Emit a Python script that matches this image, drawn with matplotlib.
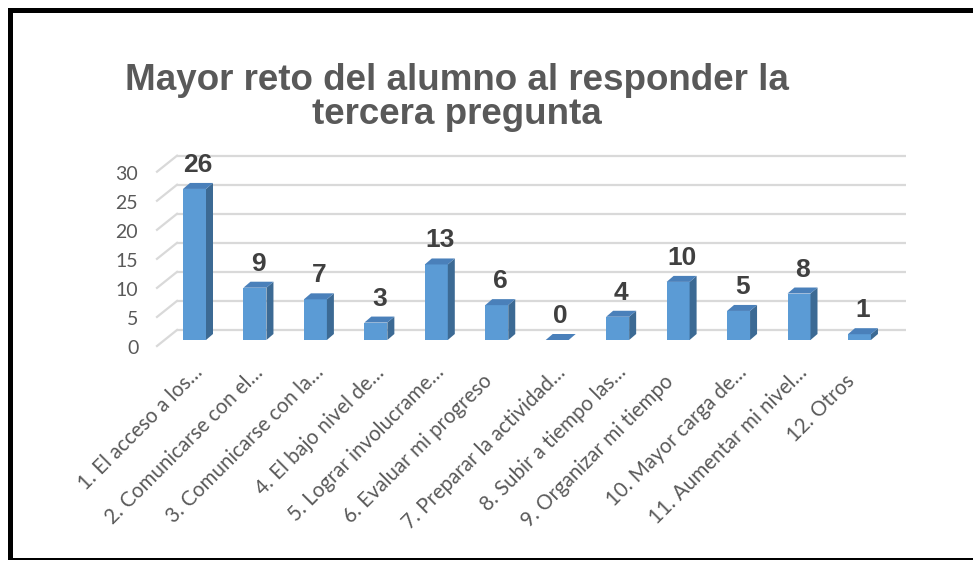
import matplotlib
matplotlib.use('Agg')
import matplotlib.pyplot as plt
from matplotlib.patches import Polygon, Rectangle
from matplotlib.transforms import ScaledTranslation

# ---------------- data ----------------
categories = [
    "1. El acceso a los…",
    "2. Comunicarse con el…",
    "3. Comunicarse con la…",
    "4. El bajo nivel de…",
    "5. Lograr involucrame…",
    "6. Evaluar mi progreso",
    "7. Preparar la actividad…",
    "8. Subir a tiempo las…",
    "9. Organizar mi tiempo",
    "10. Mayor carga de…",
    "11. Aumentar mi nivel…",
    "12. Otros",
]
values = [26, 9, 7, 3, 13, 6, 0, 4, 10, 5, 8, 1]
yticks = [0, 5, 10, 15, 20, 25, 30]
title = "Mayor reto del alumno al responder la\ntercera pregunta"

# ---------------- layout (pixels) ----------------
W, H = 973, 561
fig = plt.figure(figsize=(W / 100, H / 100), dpi=100)
fig.patch.set_facecolor('white')

px_left, px_right = 157, 906
unit_x = 60.45
x0_px = 194.5
unit_y = 5.81
y0_px = 340
ax_bottom_px, ax_top_px = 347, 150

xlim = ((px_left - x0_px) / unit_x, (px_right - x0_px) / unit_x)
ylim = (-(ax_bottom_px - y0_px) / unit_y, (y0_px - ax_top_px) / unit_y)

ax = fig.add_axes([px_left / W, (H - ax_bottom_px) / H,
                   (px_right - px_left) / W, (ax_bottom_px - ax_top_px) / H])
ax.set_xlim(xlim)
ax.set_ylim(ylim)
for s in ax.spines.values():
    s.set_visible(False)
ax.set_facecolor('none')

# back wall / floor geometry
back_dx = 20 / unit_x
back_dy = 10 / unit_y
front_dy = -6 / unit_y
xb = xlim[0] + back_dx
grid_col = '#D9D9D9'
for v in yticks:
    ax.plot([xb, xlim[1]], [v + back_dy] * 2, color=grid_col, lw=1.6,
            solid_capstyle='butt', zorder=1, clip_on=False)
    ax.plot([xlim[0], xb], [v + front_dy, v + back_dy], color=grid_col,
            lw=1.6, zorder=1, clip_on=False)

# bars (pseudo 3D)
bw = 23 / unit_x
bdx = 7 / unit_x
bdy = 6 / unit_y
front_col = '#5B9BD5'
side_col = '#3C6A94'
top_col = '#4A80BA'
xs = list(range(len(values)))
ax.bar(xs, values, width=bw, color=front_col, zorder=3, linewidth=0)
for x, v in zip(xs, values):
    r = x + bw / 2
    l = x - bw / 2
    if v > 0:
        ax.add_patch(Polygon([(r, 0), (r + bdx, bdy), (r + bdx, v + bdy), (r, v)],
                             closed=True, facecolor=side_col, edgecolor='none', zorder=3))
    ax.add_patch(Polygon([(l, v), (r, v), (r + bdx, v + bdy), (l + bdx, v + bdy)],
                         closed=True, facecolor=top_col, edgecolor='none', zorder=3))
    ax.annotate(str(v), (x + bdx / 2, v + bdy), xytext=(0, 11),
                textcoords='offset pixels', ha='center', va='baseline',
                fontsize=19, fontweight='bold', color='#404040',
                family='Liberation Sans', zorder=4, annotation_clip=False)

# y ticks
ax.set_yticks(yticks)
ax.set_yticklabels([str(t) for t in yticks], fontsize=14, color='#595959',
                   family='Lato')
ax.tick_params(axis='y', length=0, pad=13.5)
for lab in ax.get_yticklabels():
    lab.set_transform(lab.get_transform() + ScaledTranslation(0, -0.075, fig.dpi_scale_trans))

# x ticks
ax.set_xticks(xs)
ax.set_xticklabels(categories, rotation=45, ha='right', va='center',
                   rotation_mode='anchor', fontsize=14.8, color='#595959',
                   family='Lato')
ax.tick_params(axis='x', length=0, pad=16)
for lab in ax.get_xticklabels():
    if lab.get_text().endswith('…'):
        off = ScaledTranslation(0.05, 0, fig.dpi_scale_trans)
    else:
        off = ScaledTranslation(-0.08, -0.09, fig.dpi_scale_trans)
    lab.set_transform(lab.get_transform() + off)

# title
fig.text(457 / W, 1 - 63 / H, title, ha='center', va='top', fontsize=26.5,
         fontweight='bold', color='#595959', family='Liberation Sans',
         linespacing=0.95)

# frame around the picture
fig.patches.append(Rectangle((8 / W, 1 - 13 / H), 1 - 8 / W, 5 / H,
                             transform=fig.transFigure, facecolor='black',
                             edgecolor='none'))
fig.patches.append(Rectangle((8 / W, 1 - 560 / H), 5 / W, (560 - 8) / H,
                             transform=fig.transFigure, facecolor='black',
                             edgecolor='none'))
fig.patches.append(Rectangle((8 / W, 1 - 560 / H), 1 - 8 / W, 2 / H,
                             transform=fig.transFigure, facecolor='black',
                             edgecolor='none'))

fig.savefig('out.png', dpi=100)
